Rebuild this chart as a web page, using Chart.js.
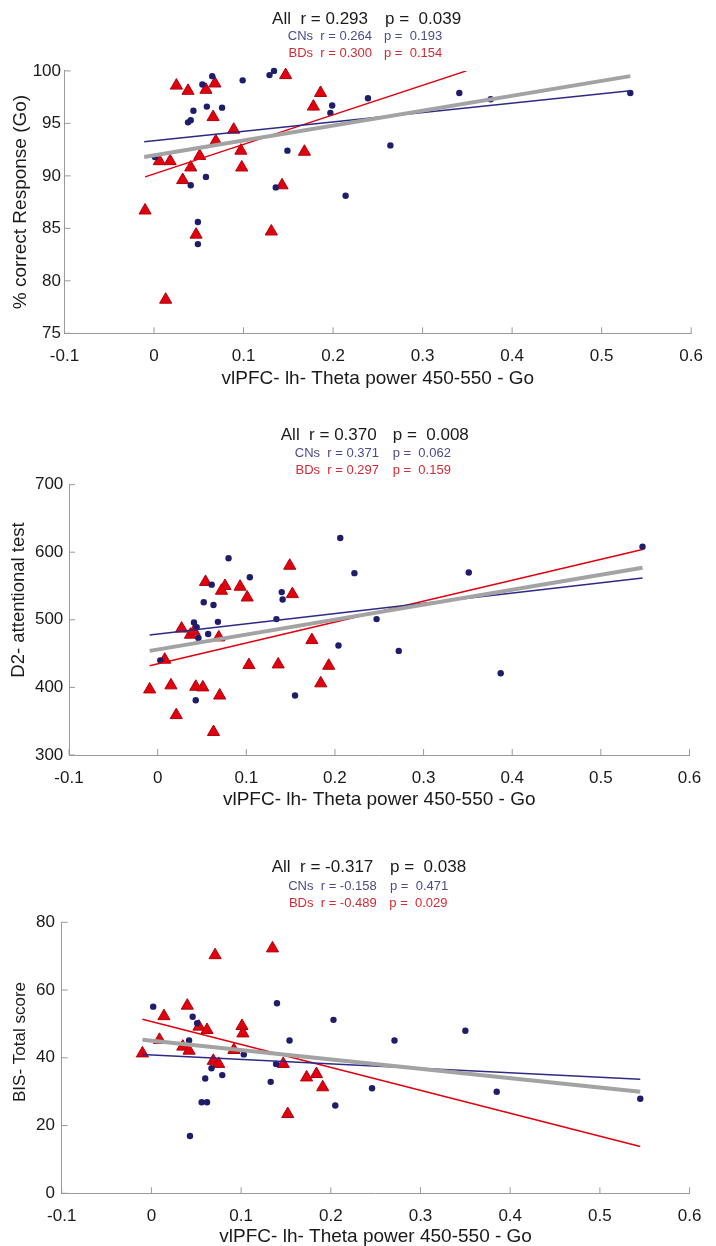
<!DOCTYPE html>
<html>
<head>
<meta charset="utf-8">
<script src="https://cdn.jsdelivr.net/npm/chart.js@4.4.1/dist/chart.umd.min.js"></script>
<style>
  html, body { margin: 0; padding: 0; background: #fff; }
  #wrap { position: relative; width: 716px; height: 1246px; overflow: hidden; }
  canvas { position: absolute; left: 0; }
</style>
</head>
<body>
<div id="wrap">
  <canvas id="goChart" width="716" height="410" style="top:0px"></canvas>
  <canvas id="d2Chart" width="716" height="415" style="top:410px"></canvas>
  <canvas id="bisChart" width="716" height="425" style="top:825px"></canvas>
</div>
<script>
// ---- shared axis data
const xTickValues = [-0.1, 0, 0.1, 0.2, 0.3, 0.4, 0.5, 0.6];
const xTickLabels = ["-0.1", "0", "0.1", "0.2", "0.3", "0.4", "0.5", "0.6"];
const xTitle = "vlPFC- lh- Theta power 450-550 - Go";
const statGroups = ["All", "CNs", "BDs"];

// ---- panel 1: % correct Response (Go)
const goYTicks = [75, 80, 85, 90, 95, 100];
const goR = ["0.293", "0.264", "0.300"];
const goP = ["0.039", "0.193", "0.154"];
const goCNs = [
  [0.065, 99.5], [0.054, 98.7], [0.099, 99.1], [0.129, 99.6], [0.134, 100.0],
  [0.059, 96.6], [0.076, 96.5], [0.044, 96.2], [0.041, 95.3], [0.038, 95.1],
  [0.199, 96.7], [0.197, 96.0], [0.239, 97.4], [0.001, 91.8], [0.149, 92.4],
  [0.264, 92.9], [0.058, 89.9], [0.041, 89.1], [0.136, 88.9], [0.214, 88.1],
  [0.049, 85.6], [0.049, 83.5], [0.341, 97.9], [0.376, 97.3], [0.532, 97.9]
];
const goBDs = [
  [0.025, 98.6], [0.038, 98.1], [0.058, 98.2], [0.068, 98.8], [0.147, 99.6],
  [0.186, 97.9], [0.178, 96.6], [0.066, 95.6], [0.089, 94.4], [0.069, 93.3],
  [0.097, 92.4], [0.051, 91.9], [0.006, 91.4], [0.018, 91.4], [0.168, 92.3],
  [0.041, 90.8], [0.098, 90.8], [0.032, 89.6], [0.143, 89.1], [-0.010, 86.7],
  [0.047, 84.4], [0.131, 84.7], [0.013, 78.2]
];
const goFitAll = [[-0.011, 91.8], [0.532, 99.5]];
const goFitCNs = [[-0.011, 93.25], [0.532, 98.1]];
const goFitBDs = [[-0.010, 89.9], [0.349, 100.0]];

// ---- panel 2: D2- attentional test
const d2YTicks = [300, 400, 500, 600, 700];
const d2R = ["0.370", "0.371", "0.297"];
const d2P = ["0.008", "0.062", "0.159"];
const d2CNs = [
  [0.206, 621], [0.080, 591], [0.222, 569], [0.104, 563], [0.061, 552],
  [0.140, 541], [0.141, 530], [0.052, 526], [0.063, 522], [0.068, 497],
  [0.041, 496], [0.134, 501], [0.044, 489], [0.057, 479], [0.046, 473],
  [0.247, 501], [0.204, 462], [0.272, 454], [0.003, 440], [0.043, 381],
  [0.155, 388], [0.351, 570], [0.387, 421], [0.547, 608]
];
const d2BDs = [
  [0.149, 580], [0.054, 556], [0.076, 550], [0.072, 543], [0.093, 549],
  [0.101, 533], [0.152, 538], [0.027, 487], [0.037, 478], [0.041, 483],
  [0.069, 474], [0.174, 470], [0.008, 441], [0.103, 433], [0.136, 434],
  [0.193, 432], [0.184, 406], [-0.009, 397], [0.015, 403], [0.043, 401],
  [0.051, 400], [0.070, 388], [0.021, 359], [0.063, 334]
];
const d2FitAll = [[-0.009, 454], [0.547, 577]];
const d2FitCNs = [[-0.009, 477.5], [0.547, 562]];
const d2FitBDs = [[-0.009, 432], [0.547, 604]];

// ---- panel 3: BIS- Total score
const bisYTicks = [0, 20, 40, 60, 80];
const bisR = ["-0.317", "-0.158", "-0.489"];
const bisP = ["0.038", "0.471", "0.029"];
const bisCNs = [
  [0.002, 55.1], [0.046, 52.1], [0.051, 50.2], [0.140, 56.1], [0.042, 45.1],
  [0.154, 45.1], [0.203, 51.2], [0.271, 45.1], [0.103, 41.0], [0.139, 38.2],
  [0.067, 36.9], [0.079, 34.9], [0.060, 33.9], [0.133, 32.9], [0.246, 31.0],
  [0.056, 26.9], [0.062, 26.9], [0.205, 25.9], [0.043, 16.9], [0.350, 48.0],
  [0.385, 30.0], [0.545, 27.9]
];
const bisBDs = [
  [0.071, 70.3], [0.135, 72.3], [0.040, 55.4], [0.014, 52.3], [0.053, 49.2],
  [0.062, 48.2], [0.101, 49.4], [0.102, 47.2], [0.009, 45.3], [0.035, 43.3],
  [0.042, 42.1], [-0.010, 41.3], [0.092, 42.3], [0.069, 39.1], [0.075, 38.2],
  [0.147, 38.2], [0.173, 34.2], [0.184, 35.2], [0.191, 31.3], [0.152, 23.4]
];
const bisFitAll = [[-0.010, 45.3], [0.545, 30.0]];
const bisFitCNs = [[-0.010, 41.0], [0.545, 33.7]];
const bisFitBDs = [[-0.010, 51.4], [0.545, 13.8]];

// ---- styling
const navy = "#1d1d6b";
const navyLine = "#2b2b85";
const red = "#e1000e";
const grey = "#a3a3a3";
const axisGrey = "#9a9a9a";
const textColor = "#1a1a1a";
const sans = "'Liberation Sans', Arial, sans-serif";

const toPts = (arr) => arr.map(([x, y]) => ({ x, y }));

// draws the stats block and rotated y title
const panelText = {
  id: "panelText",
  afterDraw(chart, args, opts) {
    const ctx = chart.ctx;
    ctx.save();
    ctx.textBaseline = "middle";
    opts.stats.forEach((s) => {
      ctx.fillStyle = s.color;
      ctx.font = s.size + "px " + sans;
      ctx.textAlign = "right";
      ctx.fillText(s.left, s.rx, s.y);
      ctx.textAlign = "left";
      ctx.fillText(s.right, s.px, s.y);
    });
    const t = opts.yTitle;
    ctx.translate(t.x, t.y);
    ctx.rotate(-Math.PI / 2);
    ctx.textAlign = "center";
    ctx.fillStyle = textColor;
    ctx.font = t.size + "px " + sans;
    ctx.fillText(t.text, 0, 0);
    ctx.restore();
  }
};

// matlab style ticks pointing into the plot
const innerTicks = {
  id: "innerTicks",
  beforeDatasetsDraw(chart) {
    const ctx = chart.ctx;
    const { x, y } = chart.scales;
    ctx.save();
    ctx.strokeStyle = axisGrey;
    ctx.lineWidth = 1;
    ctx.beginPath();
    x.ticks.forEach((t) => {
      const px = x.getPixelForValue(t.value);
      ctx.moveTo(px, y.bottom);
      ctx.lineTo(px, y.bottom - 6);
    });
    y.ticks.forEach((t) => {
      const py = y.getPixelForValue(t.value);
      ctx.moveTo(x.left, py);
      ctx.lineTo(x.left + 6, py);
    });
    ctx.stroke();
    ctx.restore();
  }
};

function fitLine(pts, color, width) {
  return {
    data: toPts(pts),
    showLine: true,
    borderColor: color,
    borderWidth: width,
    pointRadius: 0,
    fill: false,
    order: 0
  };
}

function makePanel(id, cfg) {
  const a = cfg.area;
  const h = document.getElementById(id).height;
  const stats = statGroups.map((g, i) => ({
    left: g + "  r = " + cfg.r[i],
    right: "p =  " + cfg.p[i],
    color: [textColor, "#4b4b8c", "#d42a35"][i],
    size: i === 0 ? 17 : 13,
    y: cfg.statY[i],
    rx: cfg.statRx[i],
    px: cfg.statPx[i]
  }));
  return new Chart(document.getElementById(id), {
    type: "scatter",
    data: {
      datasets: [
        fitLine(cfg.fitAll, grey, 4),
        fitLine(cfg.fitCNs, navyLine, 1.5),
        fitLine(cfg.fitBDs, red, 1.5),
        {
          label: "CNs",
          data: toPts(cfg.cns),
          pointStyle: "circle",
          pointRadius: 3.2,
          backgroundColor: navy,
          borderWidth: 0,
          clip: false,
          order: 1
        },
        {
          label: "BDs",
          data: toPts(cfg.bds),
          pointStyle: "triangle",
          pointRadius: 7,
          backgroundColor: red,
          borderColor: "#b0000a",
          borderWidth: 1,
          clip: false,
          order: 1
        }
      ]
    },
    options: {
      responsive: false,
      animation: false,
      events: [],
      layout: {
        padding: { left: 0, right: 716 - a.right, top: a.top, bottom: h - a.bottom - a.xh }
      },
      plugins: {
        legend: { display: false },
        tooltip: { enabled: false },
        panelText: { stats, yTitle: cfg.yTitle }
      },
      scales: {
        x: {
          type: "linear",
          min: -0.1,
          max: 0.6,
          afterBuildTicks: (s) => { s.ticks = xTickValues.map((v) => ({ value: v })); },
          afterFit: (s) => { s.height = a.xh; },
          grid: { display: false, drawTicks: false, tickLength: 0 },
          border: { display: true, color: axisGrey, width: 1 },
          ticks: {
            padding: 13,
            color: textColor,
            autoSkip: false,
            maxRotation: 0,
            font: { family: sans, size: 17 },
            callback: (v, i) => xTickLabels[i]
          },
          title: {
            display: true,
            text: xTitle,
            color: textColor,
            padding: 0,
            font: { family: sans, size: 19 }
          }
        },
        y: {
          type: "linear",
          min: cfg.yTicks[0],
          max: cfg.yTicks[cfg.yTicks.length - 1],
          afterBuildTicks: (s) => { s.ticks = cfg.yTicks.map((v) => ({ value: v })); },
          afterFit: (s) => { s.width = a.left; },
          grid: { display: false, drawTicks: false, tickLength: 0 },
          border: { display: true, color: axisGrey, width: 1 },
          ticks: {
            padding: a.ypad,
            color: textColor,
            font: { family: sans, size: 17 },
            callback: (v) => String(v)
          }
        }
      }
    },
    plugins: [innerTicks, panelText]
  });
}

makePanel("goChart", {
  area: { left: 64.5, right: 693.3, top: 70.9, bottom: 333.3, xh: 56.4, ypad: 3.5 },
  yTicks: goYTicks, r: goR, p: goP,
  cns: goCNs, bds: goBDs, fitAll: goFitAll, fitCNs: goFitCNs, fitBDs: goFitBDs,
  statY: [19, 36.7, 53.3], statRx: [368, 372, 372], statPx: [385, 384, 384],
  yTitle: { text: "% correct Response (Go)", x: 21, y: 202, size: 19 }
});

makePanel("d2Chart", {
  area: { left: 69, right: 689.5, top: 74.6, bottom: 345, xh: 56.4, ypad: 5.7 },
  yTicks: d2YTicks, r: d2R, p: d2P,
  cns: d2CNs, bds: d2BDs, fitAll: d2FitAll, fitCNs: d2FitCNs, fitBDs: d2FitBDs,
  statY: [25, 43.3, 60], statRx: [376.7, 379, 379], statPx: [392.7, 392.7, 392.7],
  yTitle: { text: "D2- attentional test", x: 19.2, y: 190, size: 18.5 }
});

makePanel("bisChart", {
  area: { left: 61.7, right: 689.6, top: 97.3, bottom: 368.3, xh: 55, ypad: 6.7 },
  yTicks: bisYTicks, r: bisR, p: bisP,
  cns: bisCNs, bds: bisBDs, fitAll: bisFitAll, fitCNs: bisFitCNs, fitBDs: bisFitBDs,
  statY: [42.3, 61.7, 78.3], statRx: [373.3, 376.7, 376.7], statPx: [390, 390, 389.3],
  yTitle: { text: "BIS- Total score", x: 20.8, y: 217, size: 17 }
});
</script>
</body>
</html>
